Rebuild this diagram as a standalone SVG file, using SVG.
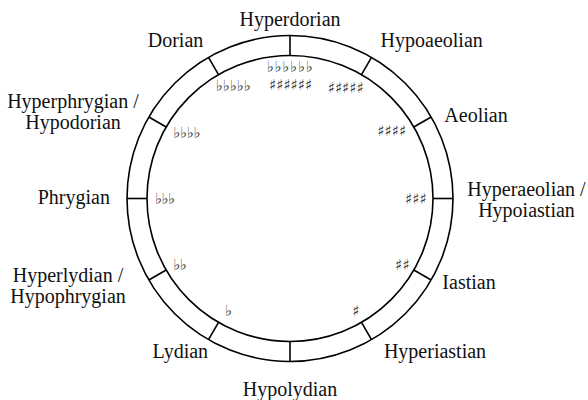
<svg xmlns="http://www.w3.org/2000/svg" width="588" height="400" viewBox="0 0 588 400">
<style>
.lbl{font-family:"Liberation Serif","Times New Roman",serif;font-size:20px;fill:#111;text-anchor:middle}
.acc{font-family:"DejaVu Sans",sans-serif;font-size:15px;fill:#333}
.ring{fill:none;stroke:#000;stroke-width:1.6}
.tick{stroke:#000;stroke-width:1.6}
</style>
<rect width="588" height="400" fill="#fff"/>
<g id="ring">
<circle class="ring" cx="290" cy="198.5" r="163"/>
<circle class="ring" cx="290" cy="198.5" r="143"/>
</g>
<g id="connectors">
<line class="tick" x1="290" y1="55.5" x2="290" y2="35.5"/>
<line class="tick" x1="361.5" y1="74.66" x2="371.5" y2="57.34"/>
<line class="tick" x1="413.84" y1="127" x2="431.16" y2="117"/>
<line class="tick" x1="433" y1="198.5" x2="453" y2="198.5"/>
<line class="tick" x1="413.84" y1="270" x2="431.16" y2="280"/>
<line class="tick" x1="361.5" y1="322.34" x2="371.5" y2="339.66"/>
<line class="tick" x1="290" y1="341.5" x2="290" y2="361.5"/>
<line class="tick" x1="218.5" y1="322.34" x2="208.5" y2="339.66"/>
<line class="tick" x1="166.16" y1="270" x2="148.84" y2="280"/>
<line class="tick" x1="147" y1="198.5" x2="127" y2="198.5"/>
<line class="tick" x1="166.16" y1="127" x2="148.84" y2="117"/>
<line class="tick" x1="218.5" y1="74.66" x2="208.5" y2="57.34"/>
</g>
<g id="hyperdorian"><text class="lbl" x="290" y="26">Hyperdorian</text>
<text class="acc" x="266.7 274.5 282.3 290.1 297.9 305.7" y="72">♭♭♭♭♭♭</text>
<text class="acc" x="269 276.2 283.4 290.6 297.8 305" y="90">♯♯♯♯♯♯</text></g>
<g id="hypoaeolian"><text class="lbl" x="431.7" y="47.3">Hypoaeolian</text>
<text class="acc" x="327.7 334.9 342.1 349.3 356.5" y="93">♯♯♯♯♯</text></g>
<g id="aeolian"><text class="lbl" x="476" y="121.7">Aeolian</text>
<text class="acc" x="377.3 384.5 391.7 398.9" y="136">♯♯♯♯</text></g>
<g id="hyperaeolian"><text class="lbl" x="526.5" y="195.7">Hyperaeolian /</text>
<text class="lbl" x="526.5" y="216.7">Hypoiastian</text>
<text class="acc" x="405 412.2 419.4" y="204">♯♯♯</text></g>
<g id="iastian"><text class="lbl" x="469" y="289">Iastian</text>
<text class="acc" x="395 402.5" y="270">♯♯</text></g>
<g id="hyperiastian"><text class="lbl" x="435" y="358.3">Hyperiastian</text>
<text class="acc" x="352.3" y="316">♯</text></g>
<g id="hypolydian"><text class="lbl" x="290" y="396">Hypolydian</text></g>
<g id="lydian"><text class="lbl" x="180.3" y="358.3">Lydian</text>
<text class="acc" x="225" y="316">♭</text></g>
<g id="hyperlydian"><text class="lbl" x="68" y="282">Hyperlydian /</text>
<text class="lbl" x="68" y="303">Hypophrygian</text>
<text class="acc" x="173.3 179.8" y="270">♭♭</text></g>
<g id="phrygian"><text class="lbl" x="73.8" y="204">Phrygian</text>
<text class="acc" x="155 161.5 168" y="204">♭♭♭</text></g>
<g id="hyperphrygian"><text class="lbl" x="73" y="108.3">Hyperphrygian /</text>
<text class="lbl" x="73" y="129.3">Hypodorian</text>
<text class="acc" x="173.3 180 186.7 193.4" y="138">♭♭♭♭</text></g>
<g id="dorian"><text class="lbl" x="175.5" y="47.3">Dorian</text>
<text class="acc" x="215.7 222.7 229.7 236.7 243.7" y="91">♭♭♭♭♭</text></g>
</svg>
